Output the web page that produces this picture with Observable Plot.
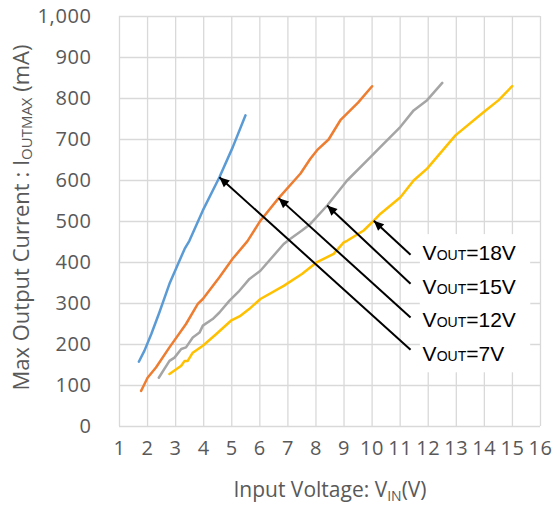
<!DOCTYPE html>
<html><head><meta charset="utf-8">
<script src="https://cdn.jsdelivr.net/npm/d3@7"></script>
<script src="https://cdn.jsdelivr.net/npm/@observablehq/plot@0.6"></script>
<style>body{margin:0;background:#fff}</style>
</head><body><div id="chart"></div>
<script>
// Series
const series = ["VOUT=7V", "VOUT=12V", "VOUT=15V", "VOUT=18V"];
const colors = ["#5B9BD5", "#ED7D31", "#A5A5A5", "#FFC000"];

const vin7 = [1.69, 1.89, 2.13, 2.42, 2.78, 3.14, 3.32, 3.49, 3.97, 4.56, 5.04, 5.49];
const iout7 = [158, 185, 225, 278, 348, 405, 433, 453, 527, 608, 682, 759];

const vin12 = [1.77, 1.9, 2.0, 2.3, 2.78, 3.37, 3.79, 3.97, 4.56, 5.03, 5.56, 6.02, 6.67, 7.45, 7.8, 8.04, 8.45, 8.87, 9.5, 10.0];
const iout12 = [87, 105, 119, 144, 193, 250, 299, 311, 364, 409, 452, 502, 557, 617, 653, 674, 700, 747, 790, 830];

const vin15 = [2.4, 2.78, 2.96, 3.2, 3.37, 3.61, 3.85, 3.97, 4.32, 4.56, 4.92, 5.27, 5.63, 6.02, 6.85, 7.09, 7.5, 7.8, 8.4, 9.11, 9.94, 10.3, 11.01, 11.48, 11.96, 12.5];
const iout15 = [119, 160, 168, 189, 193, 217, 229, 246, 262, 278, 307, 331, 360, 380, 445, 458, 478, 494, 539, 600, 657, 682, 731, 771, 796, 838];

const vin18 = [2.78, 3.2, 3.32, 3.43, 3.61, 3.97, 4.44, 4.97, 5.31, 5.63, 6.02, 6.85, 7.5, 8.04, 8.63, 8.99, 9.11, 9.7, 10.06, 10.3, 11.01, 11.48, 11.96, 12.97, 13.98, 14.51, 14.99];
const iout18 = [128, 148, 160, 160, 180, 197, 225, 258, 270, 287, 311, 343, 372, 401, 421, 449, 453, 478, 502, 519, 559, 600, 629, 710, 767, 796, 830];

// Ticks
const xTicks = [1, 2, 3, 4, 5, 6, 7, 8, 9, 10, 11, 12, 13, 14, 15, 16];
const yTicks = [0, 100, 200, 300, 400, 500, 600, 700, 800, 900, 1000];

// Annotation labels and arrows
const labelText = ["VOUT=18V", "VOUT=15V", "VOUT=12V", "VOUT=7V"];
const labelX = [11.8, 11.8, 11.8, 11.8];
const labelY = [422, 339, 258, 177];
const arrowTailX = [11.37, 11.37, 11.37, 11.37];
const arrowTailY = [419, 348, 266, 187];
const arrowTipX = [10.06, 8.40, 6.67, 4.56];
const arrowTipY = [502, 539, 557, 608];

const xTitle = "Input Voltage: VIN(V)";
const yTitle = "Max Output Current : IOUTMAX (mA)";

const vins = [vin7, vin12, vin15, vin18];
const iouts = [iout7, iout12, iout15, iout18];
const data = series.flatMap((s, i) => vins[i].map((v, j) => ({series: s, vin: v, iout: iouts[i][j]})));
const labels = labelText.map((t, i) => ({t, x: labelX[i], y: labelY[i]}));
const arrows = arrowTipX.map((x, i) => ({x1: arrowTailX[i], y1: arrowTailY[i], x2: x, y2: arrowTipY[i]}));

const arrowHead = (color, context) => {
  const ns = "http://www.w3.org/2000/svg";
  const doc = (context && context.document) || document;
  const m = doc.createElementNS(ns, "marker");
  m.setAttribute("viewBox", "-10 -5 10 10");
  m.setAttribute("markerWidth", 5.5);
  m.setAttribute("markerHeight", 5);
  m.setAttribute("orient", "auto");
  m.setAttribute("fill", color);
  m.setAttribute("stroke", "none");
  const p = doc.createElementNS(ns, "path");
  p.setAttribute("d", "M-10,-4.5L0,0L-10,4.5Z");
  m.appendChild(p);
  return m;
};

const plot = Plot.plot({
  width: 555,
  height: 508,
  marginLeft: 119,
  marginRight: 15,
  marginTop: 16,
  marginBottom: 82,
  style: {fontFamily: "'Open Sans', sans-serif", fontSize: "20px", color: "#595959", background: "#fff"},
  x: {domain: [1, 16]},
  y: {domain: [0, 1000]},
  color: {domain: series, range: colors},
  marks: [
    Plot.gridX(xTicks, {stroke: "#d9d9d9", strokeOpacity: 1, strokeWidth: 1.3}),
    Plot.gridY(yTicks, {stroke: "#d9d9d9", strokeOpacity: 1, strokeWidth: 1.3}),
    Plot.axisX(xTicks, {tickSize: 0, tickPadding: 14, label: null, fill: "#595959", fontSize: 20}),
    Plot.axisY(yTicks, {tickSize: 0, tickPadding: 28, label: null, tickFormat: d3.format(","), fill: "#595959", fontSize: 20}),
    Plot.line(data, {x: "vin", y: "iout", z: "series", stroke: "series", strokeWidth: 2.5, strokeLinejoin: "round"}),
    Plot.rect(labels, {x1: d => d.x - 0.08, x2: d => d.x + 3.85, y1: d => d.y - 46, y2: d => d.y + 46, fill: "white"}),
    Plot.link(arrows, {x1: "x1", y1: "y1", x2: "x2", y2: "y2", stroke: "black", strokeWidth: 2, markerEnd: arrowHead}),
    Plot.text(labels, {x: "x", y: "y", text: "t", textAnchor: "start", lineAnchor: "middle", fill: "black", fontSize: 21, fontFamily: "'Liberation Sans', Arial, sans-serif"}),
    Plot.text([xTitle], {frameAnchor: "bottom", textAnchor: "middle", dy: 64, lineAnchor: "middle", fontSize: 21, fill: "#595959"}),
    Plot.text([yTitle], {frameAnchor: "left", textAnchor: "middle", dx: -98, dy: -4, rotate: -90, lineAnchor: "middle", fontSize: 22, fill: "#595959"})
  ]
});

// Subscript styling of text, and tick letter spacing
const ns = "http://www.w3.org/2000/svg";
function styled(el, main, sub, rest, size, shift) {
  el.textContent = "";
  el.append(main);
  const a = document.createElementNS(ns, "tspan");
  a.setAttribute("font-size", size);
  if (shift) a.setAttribute("dy", shift);
  a.textContent = sub;
  el.append(a);
  const b = document.createElementNS(ns, "tspan");
  if (shift) b.setAttribute("dy", -shift);
  b.textContent = rest;
  el.append(b);
}
plot.querySelectorAll("text").forEach(el => {
  const t = el.textContent;
  if (labelText.includes(t)) styled(el, "V", "OUT", t.slice(4), 14, 0);
  else if (t === xTitle) styled(el, "Input Voltage: V", "IN", "(V)", 14, 4);
  else if (t === yTitle) styled(el, "Max Output Current : I", "OUTMAX", " (mA)", 15, 3);
});
plot.querySelectorAll('g[aria-label="x-axis tick label"] text, g[aria-label="y-axis tick label"] text')
  .forEach(el => el.setAttribute("letter-spacing", "0.6"));

document.getElementById("chart").appendChild(plot);
</script>
</body></html>
